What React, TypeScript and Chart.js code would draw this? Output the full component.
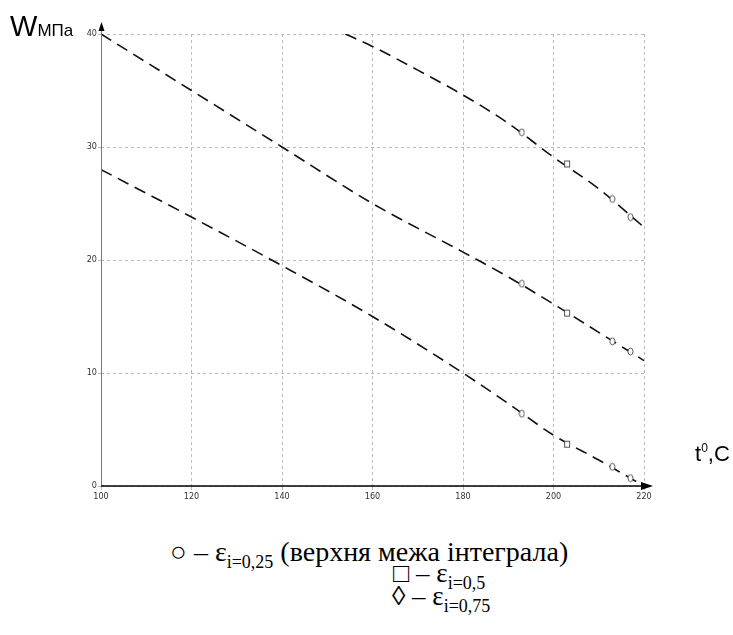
import React, { useEffect, useRef } from "react";
import { Chart, registerables } from "chart.js";

Chart.register(...registerables);

// Upper curve
const upperT = [154, 160, 170, 180, 190, 200, 210, 220];
const upperW = [40, 38.9, 36.8, 34.6, 32.1, 29.1, 26.3, 22.9];
// Middle curve
const middleT = [100, 120, 140, 160, 180, 190, 200, 210, 220];
const middleW = [40, 35, 30, 25, 20.7, 18.5, 16.1, 13.6, 11.1];
// Lower curve
const lowerT = [100, 120, 140, 160, 180, 190, 200, 210, 220];
const lowerW = [28, 23.8, 19.5, 15.0, 10.0, 7.3, 4.5, 2.3, 0];

// Markers
const circleT = [193, 213, 217];
const upperCircleW = [31.3, 25.4, 23.8];
const middleCircleW = [17.9, 12.8, 11.9];
const lowerCircleW = [6.4, 1.7, 0.7];
const squareT = [203];
const upperSquareW = [28.5];
const middleSquareW = [15.3];
const lowerSquareW = [3.7];

const xTicks = [100, 120, 140, 160, 180, 200, 220];
const yTicks = [0, 10, 20, 30, 40];

function pts(xs: number[], ys: number[]) {
  return xs.map((x, i) => ({ x, y: ys[i] }));
}

function makeOval(w: number, h: number) {
  const c = document.createElement("canvas");
  c.width = w + 2;
  c.height = h + 2;
  const ctx = c.getContext("2d")!;
  ctx.fillStyle = "#fff";
  ctx.strokeStyle = "#555";
  ctx.lineWidth = 1;
  ctx.beginPath();
  ctx.ellipse((w + 2) / 2, (h + 2) / 2, w / 2, h / 2, 0, 0, Math.PI * 2);
  ctx.fill();
  ctx.stroke();
  return c;
}

function makeSquare(w: number, h: number) {
  const c = document.createElement("canvas");
  c.width = w + 2;
  c.height = h + 2;
  const ctx = c.getContext("2d")!;
  ctx.fillStyle = "#fff";
  ctx.strokeStyle = "#555";
  ctx.lineWidth = 1;
  ctx.fillRect(1, 1, w, h);
  ctx.strokeRect(1.5, 1.5, w - 1, h - 1);
  return c;
}

const axesPlugin = {
  id: "customAxes",
  afterDraw(chart: any) {
    const { ctx, chartArea } = chart;
    const { left, right, top, bottom } = chartArea;
    ctx.save();
    ctx.setLineDash([]);
    // y axis
    ctx.strokeStyle = "#777";
    ctx.lineWidth = 1;
    ctx.beginPath();
    ctx.moveTo(left + 0.5, bottom);
    ctx.lineTo(left + 0.5, top - 6);
    ctx.stroke();
    ctx.fillStyle = "#000";
    ctx.beginPath();
    ctx.moveTo(left + 0.5, top - 12);
    ctx.lineTo(left - 2.5, top - 3);
    ctx.lineTo(left + 3.5, top - 3);
    ctx.closePath();
    ctx.fill();
    // x axis
    ctx.strokeStyle = "#000";
    ctx.lineWidth = 1.5;
    ctx.beginPath();
    ctx.moveTo(left, bottom);
    ctx.lineTo(right + 2, bottom);
    ctx.stroke();
    ctx.beginPath();
    ctx.moveTo(right + 9, bottom);
    ctx.lineTo(right - 3, bottom - 4);
    ctx.lineTo(right - 3, bottom + 4);
    ctx.closePath();
    ctx.fill();
    ctx.restore();
  },
};

export default function App() {
  const ref = useRef<HTMLCanvasElement | null>(null);

  useEffect(() => {
    if (!ref.current) return;
    const oval = makeOval(5, 7);
    const square = makeSquare(6, 7);
    const lineStyle = {
      showLine: true,
      borderColor: "#111",
      borderWidth: 1.6,
      borderDash: [12, 7],
      pointRadius: 0,
      tension: 0.3,
      cubicInterpolationMode: "monotone" as const,
      order: 2,
      fill: false,
    };
    const markStyle = (img: HTMLCanvasElement) => ({
      showLine: false,
      pointStyle: img,
      pointRadius: 4,
      order: 1,
    });
    const chart = new Chart(ref.current, {
      type: "scatter",
      data: {
        datasets: [
          { label: "upper", data: pts(upperT, upperW), ...lineStyle },
          { label: "middle", data: pts(middleT, middleW), ...lineStyle },
          { label: "lower", data: pts(lowerT, lowerW), ...lineStyle },
          { label: "c1", data: pts(circleT, upperCircleW), ...markStyle(oval) },
          { label: "c2", data: pts(circleT, middleCircleW), ...markStyle(oval) },
          { label: "c3", data: pts(circleT, lowerCircleW), ...markStyle(oval) },
          { label: "s1", data: pts(squareT, upperSquareW), ...markStyle(square) },
          { label: "s2", data: pts(squareT, middleSquareW), ...markStyle(square) },
          { label: "s3", data: pts(squareT, lowerSquareW), ...markStyle(square) },
        ],
      },
      options: {
        animation: false,
        responsive: false,
        layout: { padding: { top: 34, right: 89, left: 0, bottom: 0 } },
        plugins: {
          legend: { display: false },
          tooltip: { enabled: false },
        },
        scales: {
          x: {
            type: "linear",
            min: 100,
            max: 220,
            afterFit: (s: any) => {
              s.height = 34;
            },
            afterBuildTicks: (s: any) => {
              s.ticks = xTicks.map((v) => ({ value: v }));
            },
            ticks: {
              padding: 1,
              color: "#333",
              font: { family: "'Liberation Sans Narrow', 'DejaVu Sans Condensed', sans-serif", size: 9 },
            },
            grid: { color: "#bbbbbb", lineWidth: 1, tickLength: 4 },
            border: { display: false, dash: [3, 3] },
          },
          y: {
            type: "linear",
            min: 0,
            max: 40,
            afterFit: (s: any) => {
              s.width = 101;
            },
            afterBuildTicks: (s: any) => {
              s.ticks = yTicks.map((v) => ({ value: v }));
            },
            ticks: {
              padding: 1,
              color: "#333",
              font: { family: "'Liberation Sans Narrow', 'DejaVu Sans Condensed', sans-serif", size: 9 },
            },
            grid: { color: "#bbbbbb", lineWidth: 1, tickLength: 3 },
            border: { display: false, dash: [3, 3] },
          },
        },
      },
      plugins: [axesPlugin],
    });
    return () => chart.destroy();
  }, []);

  const sans = "'Liberation Sans', Arial, sans-serif";
  const serif = "'Liberation Serif', 'Times New Roman', serif";
  const legendLine = (left: number, top: number, size: number) => ({
    position: "absolute" as const,
    left,
    top,
    fontFamily: serif,
    fontSize: size,
    lineHeight: 1,
    whiteSpace: "nowrap" as const,
    color: "#000",
  });
  const sub = { fontSize: 18, position: "relative" as const, top: 7 };

  return (
    <div style={{ position: "fixed", left: 0, top: 0, width: 733, height: 635, background: "#fff", overflow: "hidden" }}>
      <canvas ref={ref} width={733} height={520} style={{ position: "absolute", left: 0, top: 0 }} />
      <div style={{ position: "absolute", left: 10, top: 12, fontFamily: sans, fontSize: 29, lineHeight: 1, whiteSpace: "nowrap", color: "#000" }}>
        W<span style={{ fontSize: 17 }}>МПа</span>
      </div>
      <div style={{ position: "absolute", left: 695, top: 443, fontFamily: sans, fontSize: 22, lineHeight: 1, whiteSpace: "nowrap", color: "#000" }}>
        t<span style={{ fontSize: 12, position: "relative", top: -9 }}>0</span>,C
      </div>
      <div style={legendLine(170, 538, 28)}>
        ○ – ε<span style={sub}>i=0,25</span> (верхня межа інтеграла)
      </div>
      <div style={legendLine(393, 560, 27)}>
        □ – ε<span style={sub}>i=0,5</span>
      </div>
      <div style={legendLine(392, 583, 27)}>
        ◊ – ε<span style={sub}>i=0,75</span>
      </div>
    </div>
  );
}
